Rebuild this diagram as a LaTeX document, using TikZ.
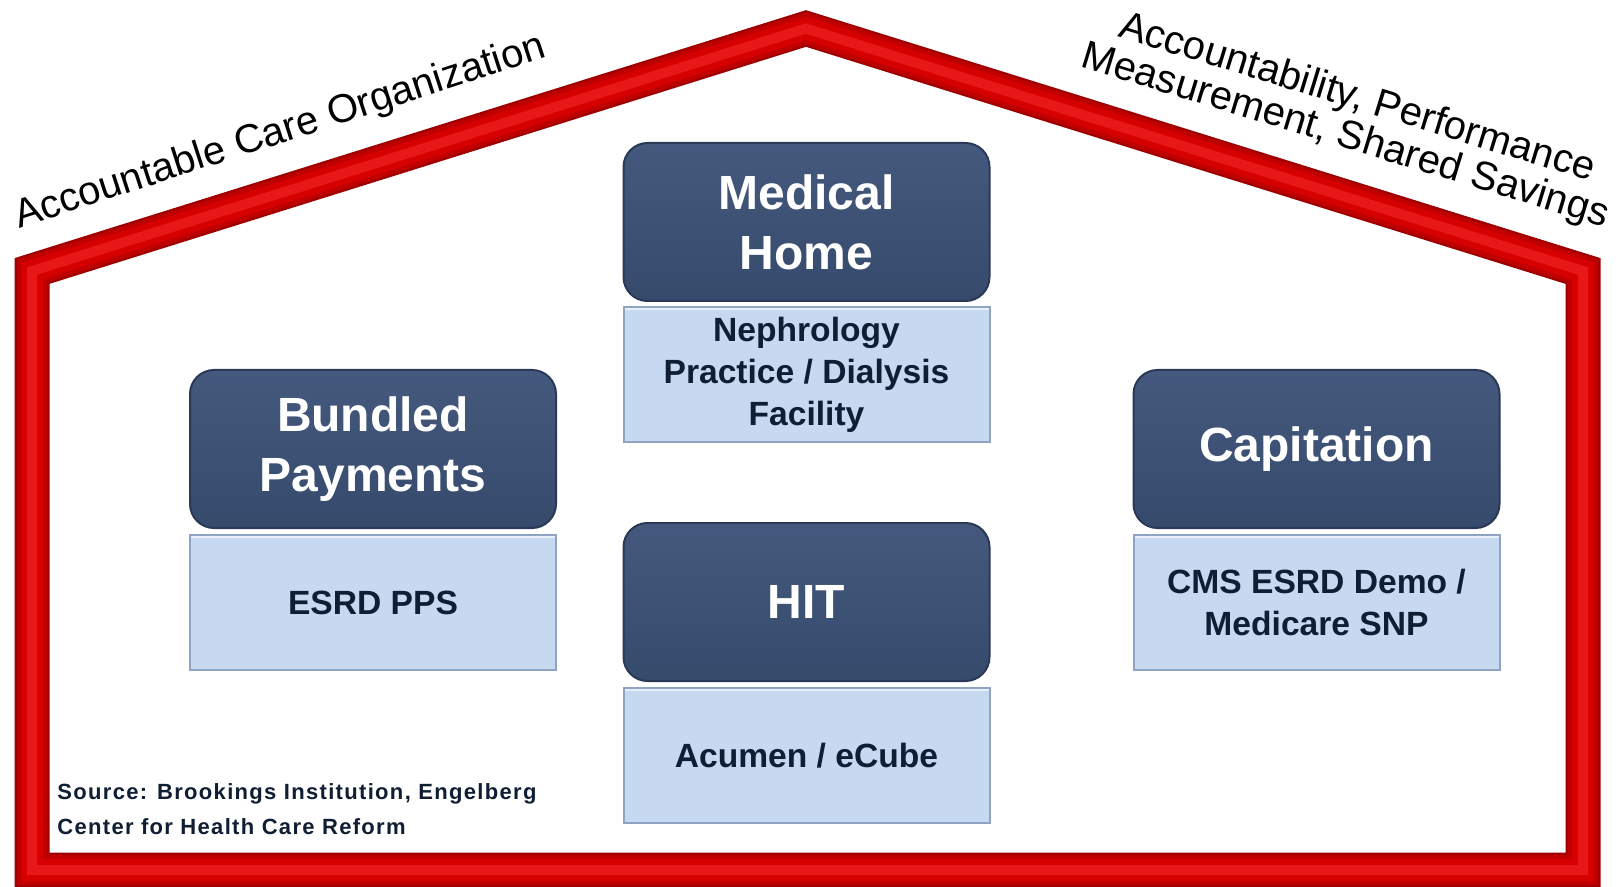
\documentclass[tikz,border=0pt]{standalone}
\usepackage{fontspec}
\setmainfont{Liberation Sans}
\usetikzlibrary{positioning}

\definecolor{framedark}{HTML}{A00000}
\definecolor{framemid}{HTML}{C00000}
\definecolor{framered}{HTML}{D60000}
\definecolor{framelight}{HTML}{E81818}
\definecolor{slatetop}{HTML}{45597E}
\definecolor{slatebot}{HTML}{364A6C}
\definecolor{slateedge}{HTML}{2A3A56}
\definecolor{paleblue}{HTML}{C6D9F1}
\definecolor{paleedge}{HTML}{8EA4C2}
\definecolor{navytext}{HTML}{0F1E33}

\tikzset{
  pillar/.style={rounded corners=12pt, minimum width=183pt, minimum height=79pt,
    top color=slatetop, bottom color=slatebot, draw=slateedge, line width=1pt,
    text=white, font=\bfseries\fontsize{24}{30}\selectfont, align=center},
  plinth/.style={minimum width=183pt, minimum height=67.5pt, fill=paleblue,
    draw=paleedge, line width=1pt, text=navytext,
    font=\bfseries\fontsize{16.8}{21}\selectfont, align=center,
    path picture={\draw[white, line width=3pt, opacity=0.6]
      (path picture bounding box.north west) -- (path picture bounding box.north east);}},
  rooftext/.style={font=\fontsize{20}{20}\selectfont, align=center, inner sep=0pt}
}

\begin{document}
\begin{tikzpicture}[x=0.5pt, y=-0.5pt]
        \useasboundingbox (0,0) rectangle (1621,887);
        \fill[white] (0,0) rectangle (1621,887);

        % house frame
        \foreach \w/\c in {17.5pt/framedark, 15pt/framemid, 11pt/framered, 5pt/framelight}
          \draw[line width=\w, \c, line join=miter] (32,870) -- (32,271) -- (806,28.5) -- (1583,271) -- (1583,870) -- cycle;

        \node[rooftext, rotate=18, anchor=base] (aco) at (283.5,142.5) {Accountable Care Organization};
        \node[rooftext, rotate=-17] (apm) at (1351,118) {Accountability, Performance\\Measurement, Shared Savings};

        % pillars
        \node[pillar] (medhome) at (806.5,222) {Medical\\Home};
        \node[plinth, below=2pt of medhome] (nephro) {Nephrology\\Practice / Dialysis\\Facility};

        \node[pillar] (bundled) at (373,449) {Bundled\\Payments};
        \node[plinth, below=2.5pt of bundled] (esrdpps) {ESRD PPS};

        \node[pillar] (hit) at (806.5,602) {HIT};
        \node[plinth, below=2.5pt of hit] (acumen) {Acumen / eCube};

        \node[pillar] (capit) at (1316.5,449) {Capitation};
        \node[plinth, below=2.5pt of capit] (cmsdemo) {CMS ESRD Demo /\\Medicare SNP};

        \node[anchor=north west, inner sep=0pt, align=left, text=navytext,
          font=\bfseries\fontsize{11}{17.5}\selectfont\addfontfeature{LetterSpace=6}] (source) at (57,783)
          {Source: Brookings Institution, Engelberg\\Center for Health Care Reform};
      \end{tikzpicture}
\end{document}
